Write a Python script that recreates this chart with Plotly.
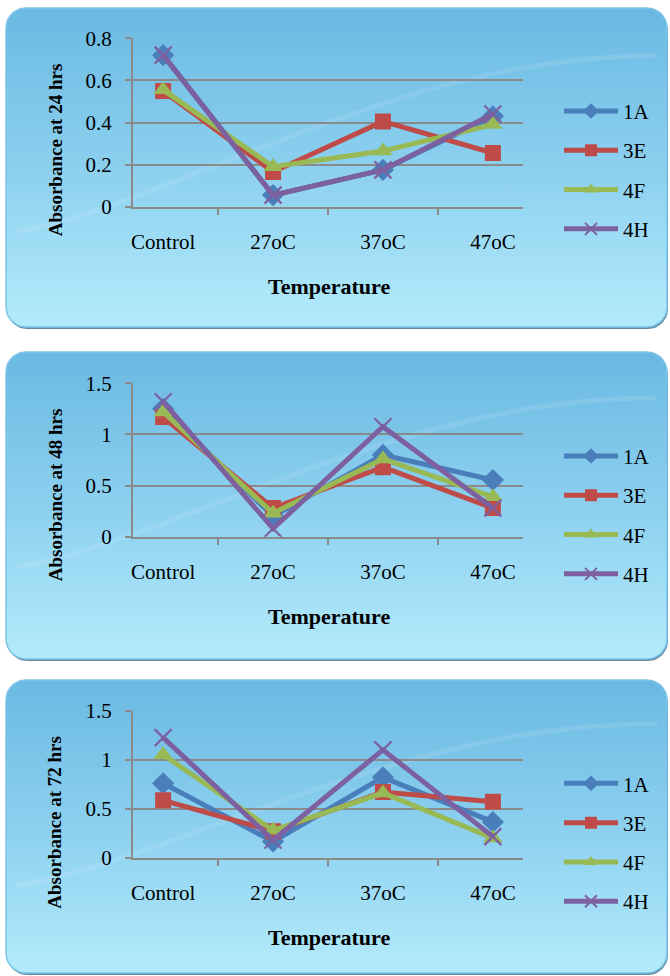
import numpy as np
import plotly.graph_objects as go

# ---- data ----
categories = ["Control", "27oC", "37oC", "47oC"]
series_names = ["1A", "3E", "4F", "4H"]

abs_24h_1A = [0.72, 0.055, 0.175, 0.43]
abs_24h_3E = [0.55, 0.165, 0.405, 0.255]
abs_24h_4F = [0.555, 0.19, 0.265, 0.39]
abs_24h_4H = [0.72, 0.055, 0.175, 0.44]

abs_48h_1A = [1.25, 0.2, 0.8, 0.555]
abs_48h_3E = [1.17, 0.28, 0.68, 0.28]
abs_48h_4F = [1.22, 0.23, 0.76, 0.39]
abs_48h_4H = [1.32, 0.08, 1.075, 0.28]

abs_72h_1A = [0.76, 0.165, 0.82, 0.365]
abs_72h_3E = [0.585, 0.27, 0.67, 0.57]
abs_72h_4F = [1.05, 0.28, 0.66, 0.2]
abs_72h_4H = [1.225, 0.18, 1.1, 0.215]

panel_titles = ["Absorbance at 24 hrs", "Absorbance at 48 hrs", "Absorbance at 72 hrs"]
panel_ymax = [0.8, 1.5, 1.5]
panel_dtick = [0.2, 0.5, 0.5]
x_title = "Temperature"

panel_values = [
    [abs_24h_1A, abs_24h_3E, abs_24h_4F, abs_24h_4H],
    [abs_48h_1A, abs_48h_3E, abs_48h_4F, abs_48h_4H],
    [abs_72h_1A, abs_72h_3E, abs_72h_4F, abs_72h_4H],
]

# ---- styling ----
W, H = 670, 976
FONT = "Liberation Serif, Times New Roman, serif"
colors = ["#4a7ebb", "#be4b48", "#98b954", "#7d60a0"]
symbols = ["diamond", "square", "triangle-up", "x-thin"]
msizes = [17, 16, 17, 17]
GRID = "#8a8a8a"

# pixel layout of each panel: card box and plot area
cards = [(6, 8, 667, 327), (6, 352, 667, 659), (6, 680, 667, 973)]
plot_left, plot_right = 133, 523
plot_tb = [(38.3, 206.7), (383.3, 536.7), (710.7, 857.7)]


def rounded_rect(x0, y0, x1, y1, r, n=12):
    xs, ys = [], []
    corners = [
        (x1 - r, y0 + r, -np.pi / 2, 0),
        (x1 - r, y1 - r, 0, np.pi / 2),
        (x0 + r, y1 - r, np.pi / 2, np.pi),
        (x0 + r, y0 + r, np.pi, 1.5 * np.pi),
    ]
    for cx, cy, a0, a1 in corners:
        t = np.linspace(a0, a1, n)
        xs.extend(cx + r * np.cos(t))
        ys.extend(cy + r * np.sin(t))
    xs.append(xs[0])
    ys.append(ys[0])
    return xs, ys


fig = go.Figure()

# background cards (on a full-page pixel axis pair drawn first)
for (x0, y0, x1, y1) in cards:
    sx, sy = rounded_rect(x0 + 1, y0 + 3, x1 + 1, y1 + 2, 20)
    fig.add_trace(go.Scatter(x=sx, y=sy, mode="lines", fill="toself",
                             fillcolor="#5f8aa0", line=dict(width=0),
                             hoverinfo="skip", showlegend=False, xaxis="x", yaxis="y"))
    rx, ry = rounded_rect(x0, y0, x1, y1, 20)
    fig.add_trace(go.Scatter(
        x=rx, y=ry, mode="lines", fill="toself",
        fillgradient=dict(type="vertical", start=y0, stop=y1,
                          colorscale=[[0, "#6ab9e2"], [0.5, "#8cd0ef"], [1, "#b3ebfb"]]),
        line=dict(width=1.5, color="#7cc4e8"),
        hoverinfo="skip", showlegend=False, xaxis="x", yaxis="y"))
    # faint highlight swoosh across the card
    t = np.linspace(0, 1, 60)
    wx = x0 + 10 + t * (x1 - x0 - 20)
    wy = y1 - 0.30 * (y1 - y0) - 0.55 * (y1 - y0) * np.sin(t * np.pi / 2) ** 1.3
    fig.add_trace(go.Scatter(x=wx, y=wy, mode="lines",
                             line=dict(width=5, color="rgba(255,255,255,0.10)", shape="spline"),
                             hoverinfo="skip", showlegend=False, xaxis="x", yaxis="y"))

layout_axes = {}
annotations = []
for p in range(3):
    xa = f"x{p + 2}"
    ya = f"y{p + 2}"
    top, bot = plot_tb[p]
    legend_name = "legend" if p == 0 else f"legend{p + 1}"
    for s in range(4):
        fig.add_trace(go.Scatter(
            x=categories, y=panel_values[p][s], name=series_names[s],
            mode="lines+markers",
            line=dict(color=colors[s], width=5),
            marker=dict(symbol=symbols[s], size=msizes[s], color=colors[s],
                        line=dict(color=colors[s], width=2.2 if s == 3 else 0)),
            xaxis=xa, yaxis=ya, legend=legend_name,
            legendgroup=f"p{p}_{s}",
        ))
    layout_axes[f"xaxis{p + 2}"] = dict(
        domain=[plot_left / W, plot_right / W], anchor=ya, automargin=False,
        type="category", categoryorder="array", categoryarray=categories,
        tickson="boundaries", ticks="outside", ticklen=6, tickcolor=GRID, tickwidth=2,
        showline=True, linecolor=GRID, linewidth=2, showgrid=False,
        tickfont=dict(family=FONT, size=21, color="#000"), ticklabelstandoff=15,
        fixedrange=True,
    )
    layout_axes[f"yaxis{p + 2}"] = dict(
        domain=[1 - bot / H, 1 - top / H], anchor=xa, automargin=False,
        range=[0, panel_ymax[p]], dtick=panel_dtick[p], tick0=0,
        ticks="outside", ticklen=6, tickcolor=GRID, tickwidth=2,
        showline=True, linecolor=GRID, linewidth=2,
        showgrid=True, gridcolor=GRID, gridwidth=1.8, zeroline=False,
        tickfont=dict(family=FONT, size=21, color="#000"), ticklabelstandoff=9,
        fixedrange=True,
    )
    annotations.append(dict(
        text=f"<b>{panel_titles[p]}</b>", xref="paper", yref="paper",
        x=55 / W, y=1 - (top + 112) / H, textangle=-90, showarrow=False,
        xanchor="center", yanchor="middle",
        font=dict(family=FONT, size=19, color="#000")))
    annotations.append(dict(
        text=f"<b>{x_title}</b>", xref="paper", yref="paper",
        x=329 / W, y=1 - (bot + 80) / H, showarrow=False,
        xanchor="center", yanchor="middle",
        font=dict(family=FONT, size=22, color="#000")))
    layout_axes[legend_name] = dict(
        x=559 / W, y=1 - (top + 132) / H, xanchor="left", yanchor="middle",
        bgcolor="rgba(0,0,0,0)", borderwidth=0, tracegroupgap=9,
        font=dict(family=FONT, size=21, color="#000"), itemwidth=54,
        itemsizing="constant",
    )

fig.update_layout(
    width=W, height=H, margin=dict(l=0, r=0, t=0, b=0, autoexpand=False),
    paper_bgcolor="white", plot_bgcolor="rgba(0,0,0,0)",
    showlegend=True,
    xaxis=dict(domain=[0, 1], range=[0, W], visible=False, fixedrange=True, automargin=False),
    yaxis=dict(domain=[0, 1], range=[H, 0], visible=False, fixedrange=True, automargin=False),
    annotations=annotations,
    **layout_axes,
)

fig.write_html("out.html")
